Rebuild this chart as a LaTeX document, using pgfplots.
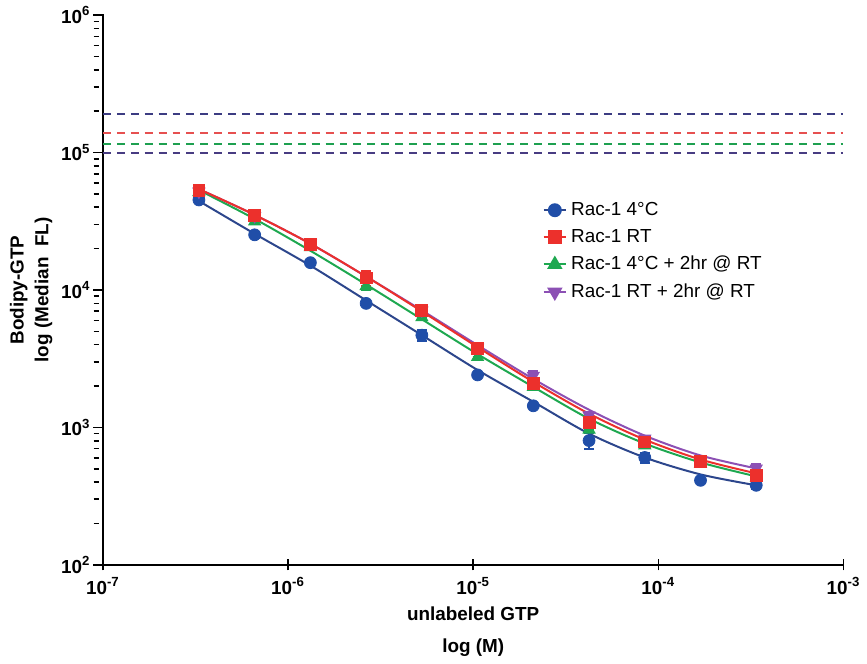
\documentclass[border=0pt]{standalone}
\usepackage{fontspec}
\setmainfont{Liberation Sans}
\usepackage{pgfplots}
\pgfplotsset{compat=1.18}

\definecolor{blueM}{RGB}{32,78,168}
\definecolor{blueL}{RGB}{44,70,140}
\definecolor{redM}{RGB}{236,48,44}
\definecolor{greenM}{RGB}{30,168,80}
\definecolor{purpleM}{RGB}{140,80,180}
\definecolor{dashBlue}{RGB}{60,60,130}
\definecolor{dashRed}{RGB}{230,80,80}
\definecolor{dashGreen}{RGB}{30,160,80}
\definecolor{dashPurple}{RGB}{72,60,130}

\newcommand{\tl}[1]{\textbf{10\textsuperscript{#1}}}

\begin{document}
\begin{tikzpicture}
\begin{axis}[
  scale only axis,
  width=372.5pt, height=276.5pt,
  xmode=log, ymode=log,
  xmin=1e-7, xmax=1e-3, ymin=1e2, ymax=1e6,
  axis x line=bottom, axis y line=left,
  axis line style={-, line width=1pt, black},
  xtick={1e-7,1e-6,1e-5,1e-4,1e-3},
  xticklabels={\tl{-7},\tl{-6},\tl{-5},\tl{-4},\tl{-3}},
  ytick={1e2,1e3,1e4,1e5,1e6},
  yticklabels={\tl{2},\tl{3},\tl{4},\tl{5},\tl{6}},
  xminorticks=false,
  tick align=center,
  major tick length=5.5pt,
  minor tick length=2.5pt,
  tick style={black, line width=0.8pt},
  y tick style={xshift=-2.2pt},
  minor y tick style={xshift=-1.2pt},
  tick label style={font=\fontsize{9.5}{10}\selectfont},
  xlabel={unlabeled GTP\\log (M)},
  ylabel={Bodipy-GTP\\log (Median\ \ FL)},
  xlabel style={align=center, font=\bfseries\fontsize{9.5}{16}\selectfont, yshift=0.5pt},
  ylabel style={align=center, font=\bfseries\fontsize{9.5}{12.5}\selectfont, inner sep=5pt},
  ylabel shift=-4.2pt,
  legend style={at={(0.585,0.675)}, anchor=north west, draw=none, fill=none,
    font=\fontsize{9.5}{11}\selectfont, row sep=1.5pt},
  legend cell align=left,
  legend image code/.code={\draw[mark repeat=2,mark phase=2] plot coordinates {(0cm,0cm)(0.2cm,0cm)(0.4cm,0cm)};},
]

% legend entries
\addlegendimage{blueL, line width=1pt, mark=*, mark size=3pt, mark options={fill=blueM, draw=blueM}}
\addlegendentry{Rac-1 4°C}
\addlegendimage{redM, line width=1pt, mark=square*, mark size=3pt, mark options={fill=redM, draw=redM}}
\addlegendentry{Rac-1 RT}
\addlegendimage{greenM, line width=1pt, mark=triangle*, mark size=3.5pt, mark options={fill=greenM, draw=greenM}}
\addlegendentry{Rac-1 4°C + 2hr @ RT}
\addlegendimage{purpleM, line width=1pt, mark=triangle*, mark size=3.5pt, mark options={fill=purpleM, draw=purpleM, rotate=180}}
\addlegendentry{Rac-1 RT + 2hr @ RT}

% reference levels
\addplot[dashBlue, line width=1pt, dash pattern=on 4pt off 3pt, forget plot] coordinates {(1e-7,1.92e5) (1e-3,1.92e5)};
\addplot[dashRed, line width=1pt, dash pattern=on 4pt off 3pt, forget plot] coordinates {(1e-7,1.38e5) (1e-3,1.38e5)};
\addplot[dashGreen, line width=1pt, dash pattern=on 4pt off 3pt, forget plot] coordinates {(1e-7,1.16e5) (1e-3,1.16e5)};
\addplot[dashPurple, line width=1pt, dash pattern=on 4pt off 3pt, forget plot] coordinates {(1e-7,1.0e5) (1e-3,1.0e5)};

% fitted curves
\addplot[blueL, line width=1pt, smooth, forget plot] coordinates {
(3.3e-7,44400) (6.6e-7,25640) (1.32e-6,15040) (2.64e-6,8400) (5.28e-6,4690)
(1.056e-5,2615) (2.112e-5,1536) (4.224e-5,901) (8.448e-5,604) (1.6896e-4,455) (3.3792e-4,379)};
\addplot[greenM, line width=1pt, smooth, forget plot] coordinates {
(3.3e-7,53300) (6.6e-7,32900) (1.32e-6,19300) (2.64e-6,10960) (5.28e-6,6120)
(1.056e-5,3415) (2.112e-5,1971) (4.224e-5,1157) (8.448e-5,763) (1.6896e-4,556) (3.3792e-4,440)};
\addplot[purpleM, line width=1pt, smooth, forget plot] coordinates {
(3.3e-7,54200) (6.6e-7,35200) (1.32e-6,21700) (2.64e-6,12530) (5.28e-6,7110)
(1.056e-5,3967) (2.112e-5,2252) (4.224e-5,1344) (8.448e-5,871) (1.6896e-4,625) (3.3792e-4,503)};
\addplot[redM, line width=1pt, smooth, forget plot] coordinates {
(3.3e-7,54200) (6.6e-7,35200) (1.32e-6,21700) (2.64e-6,12530) (5.28e-6,6990)
(1.056e-5,3840) (2.112e-5,2143) (4.224e-5,1258) (8.448e-5,815) (1.6896e-4,584) (3.3792e-4,463)};

% Rac-1 4C
\addplot[only marks, forget plot, mark=*, mark size=3pt,
  mark options={fill=blueM, draw=blueM, solid},
  error bars/.cd, y dir=both, y explicit,
  error bar style={blueM, line width=1pt}, error mark options={blueM, line width=1pt, mark size=2.5pt, rotate=90}]
coordinates {
(3.3e-7,45200) +- (0,0)
(6.6e-7,25200) +- (0,1200)
(1.32e-6,15800) +- (0,0)
(2.64e-6,7990) +- (0,0)
(5.28e-6,4690) +- (0,450)
(1.056e-5,2410) +- (0,0)
(2.112e-5,1436) +- (0,0)
(4.224e-5,802) +- (0,110)
(8.448e-5,604) +- (0,50)
(1.6896e-4,412) +- (0,0)
(3.3792e-4,379) +- (0,25)
};

% Rac-1 4C + 2hr @ RT
\addplot[only marks, forget plot, mark=triangle*, mark size=3.5pt,
  mark options={fill=greenM, draw=greenM, solid},
  error bars/.cd, y dir=both, y explicit,
  error bar style={greenM, line width=1pt}, error mark options={greenM, line width=1pt, mark size=2.5pt, rotate=90}]
coordinates {
(3.3e-7,51500) +- (0,0)
(6.6e-7,31500) +- (0,0)
(1.32e-6,20500) +- (0,0)
(2.64e-6,10660) +- (0,600)
(5.28e-6,6320) +- (0,0)
(1.056e-5,3250) +- (0,0)
(2.112e-5,1970) +- (0,0)
(4.224e-5,963) +- (0,0)
(8.448e-5,740) +- (0,0)
(1.6896e-4,545) +- (0,0)
(3.3792e-4,430) +- (0,0)
};

% Rac-1 RT + 2hr @ RT
\addplot[only marks, forget plot, mark=triangle*, mark size=3.5pt,
  mark options={fill=purpleM, draw=purpleM, solid, rotate=180},
  error bars/.cd, y dir=both, y explicit,
  error bar style={purpleM, line width=1pt}, error mark options={purpleM, line width=1pt, mark size=2.5pt, rotate=90}]
coordinates {
(3.3e-7,52000) +- (0,0)
(6.6e-7,34500) +- (0,0)
(1.32e-6,21800) +- (0,0)
(2.64e-6,12600) +- (0,0)
(5.28e-6,7100) +- (0,0)
(1.056e-5,3800) +- (0,0)
(2.112e-5,2380) +- (0,200)
(4.224e-5,1222) +- (0,80)
(8.448e-5,830) +- (0,0)
(1.6896e-4,578) +- (0,0)
(3.3792e-4,503) +- (0,40)
};

% Rac-1 RT
\addplot[only marks, forget plot, mark=square*, mark size=3pt,
  mark options={fill=redM, draw=redM, solid},
  error bars/.cd, y dir=both, y explicit,
  error bar style={redM, line width=1pt}, error mark options={redM, line width=1pt, mark size=2.5pt, rotate=90}]
coordinates {
(3.3e-7,53300) +- (0,0)
(6.6e-7,34800) +- (0,0)
(1.32e-6,21600) +- (0,0)
(2.64e-6,12250) +- (0,1500)
(5.28e-6,7140) +- (0,600)
(1.056e-5,3775) +- (0,0)
(2.112e-5,2095) +- (0,0)
(4.224e-5,1095) +- (0,0)
(8.448e-5,785) +- (0,0)
(1.6896e-4,568) +- (0,0)
(3.3792e-4,450) +- (0,0)
};

\end{axis}
\end{tikzpicture}
\end{document}
